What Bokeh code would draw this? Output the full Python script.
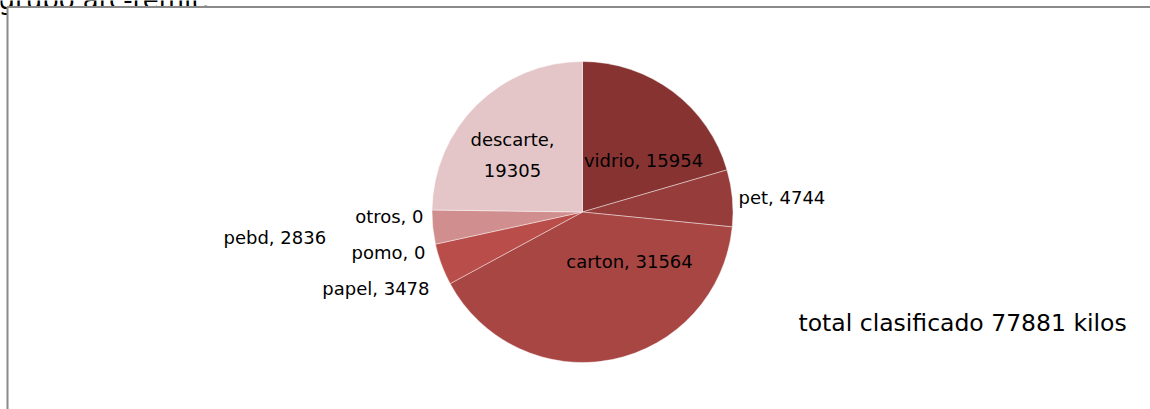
import numpy as np
from bokeh.plotting import figure
from bokeh.models import ColumnDataSource
from bokeh.core.properties import value
from bokeh.embed import file_html
from bokeh.resources import INLINE

# ---- data ----
categories = ["vidrio", "pet", "carton", "papel", "pomo", "pebd", "otros", "descarte"]
kilos = [15954, 4744, 31564, 3478, 0, 2836, 0, 19305]
title_text = "grupo arc-remit."
total_label = "total clasificado {} kilos".format(sum(kilos))

# ---- styles / layout ----
colors = ["#863332", "#963d3b", "#a84644", "#b94d49", "#c0504d", "#d08f8e", "#dba9a9", "#e5c6c8"]
W, H = 1150, 409
OX, OY = 0, 0                          # page offset of the figure
cx, cy, R = 582, 211.5, 150.5          # pie centre / radius (page pixels)
# label anchors relative to pie centre (page pixels, y down) and alignment
label_dx = [61, 156, 47, -153, -157, -359, -159, -70]
label_dy = [-52, -15, 49, 76, 40, 25, 4, -57]
label_align = ["center", "left", "center", "right", "right", "left", "right", "center"]
FONT = "DejaVu Sans"

def X(page_x):
    return page_x - OX

def Y(page_y):
    return H - (page_y - OY)

frac = np.array(kilos, dtype=float) / sum(kilos)
cum = np.concatenate([[0.0], np.cumsum(frac)])
start = np.pi / 2 - 2 * np.pi * cum[:-1]
end = np.pi / 2 - 2 * np.pi * cum[1:]
nz = [i for i, k in enumerate(kilos) if k > 0]

p = figure(width=W, height=H, x_range=(0, W), y_range=(0, H),
           output_backend="svg", toolbar_location=None, min_border=0)
p.axis.visible = False
p.grid.visible = False
p.outline_line_color = None
p.background_fill_color = "white"

# title (cut off by the frame above)
p.text(x=[X(-2)], y=[Y(-0.5)], text=[title_text], text_font=value(FONT),
       text_font_size="26px", text_color="black", text_baseline="alphabetic")
# chart area background and frame
p.quad(left=[X(7)], right=[W + 5], top=[Y(6.5)], bottom=[-5], fill_color="white", line_color=None)
p.segment(x0=[X(7)], y0=[Y(6.5)], x1=[W + 5], y1=[Y(6.5)], line_color="#8a8a8a", line_width=2)
p.segment(x0=[X(7)], y0=[Y(6.5)], x1=[X(7)], y1=[-5], line_color="#8a8a8a", line_width=2)

src = ColumnDataSource(dict(cat=[categories[i] for i in nz], kilos=[kilos[i] for i in nz],
                            start=start[nz], end=end[nz], color=[colors[i] for i in nz]))
p.wedge(x=X(cx), y=Y(cy), radius=R, start_angle="start", end_angle="end", direction="clock",
        fill_color="color", line_color="white", line_width=0.6, line_alpha=0.7, source=src)

labels = ["{}, {}".format(c, k) for c, k in zip(categories, kilos)]
labels[-1] = "{},\n{}".format(categories[-1], kilos[-1])
lsrc = ColumnDataSource(dict(x=[X(cx + d) for d in label_dx], y=[Y(cy + d) for d in label_dy],
                             text=labels, align=label_align))
p.text(x="x", y="y", text="text", text_align="align", text_baseline="middle",
       text_font=value(FONT), text_font_size="18px", text_color="black",
       text_line_height=1.5, source=lsrc)

p.text(x=[X(798)], y=[Y(322)], text=[total_label], text_font=value(FONT), text_font_size="23.5px",
       text_color="black", text_baseline="middle", text_align="left")

open("out.html", "w").write(file_html(p, INLINE))
